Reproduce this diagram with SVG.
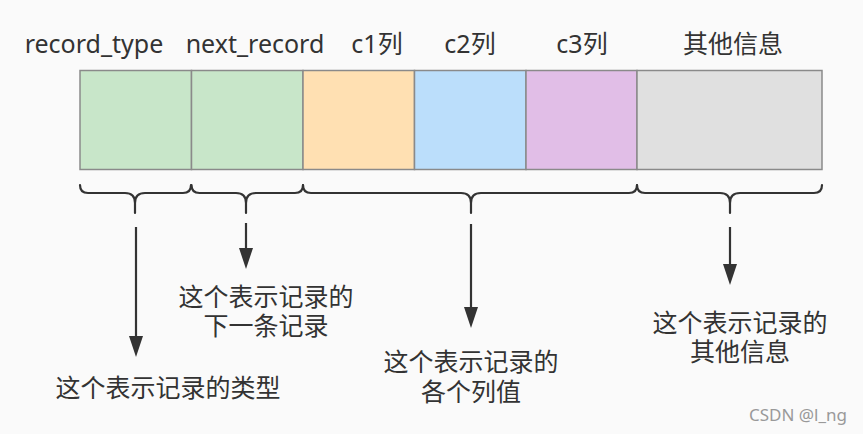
<svg xmlns="http://www.w3.org/2000/svg" width="863" height="434" viewBox="0 0 863 434">
<style>
text{font-family:"Noto Sans","Noto Sans CJK SC",sans-serif;font-size:25px;fill:#333;text-anchor:middle}
.box{stroke:#8a8a8a;stroke-width:1.5}
.brace{fill:none;stroke:#333;stroke-width:2.2;stroke-linecap:round}
.line{stroke:#333;stroke-width:2.2}
.head{fill:#333}
</style>
<rect width="863" height="434" fill="#fafafa"/>
<g id="record_type"><rect class="box" x="80" y="70.5" width="111.5" height="99" fill="#c8e6c9"/><text x="94" y="53">record_type</text></g>
<g id="next_record"><rect class="box" x="191.5" y="70.5" width="111.5" height="99" fill="#c8e6c9"/><text x="255" y="53">next_record</text></g>
<g id="c1"><rect class="box" x="303" y="70.5" width="111.5" height="99" fill="#ffe0b2"/><text x="377" y="53">c1列</text></g>
<g id="c2"><rect class="box" x="414.5" y="70.5" width="111.5" height="99" fill="#bbdefb"/><text x="470" y="53">c2列</text></g>
<g id="c3"><rect class="box" x="526" y="70.5" width="111" height="99" fill="#e1bee7"/><text x="582" y="53">c3列</text></g>
<g id="other"><rect class="box" x="637" y="70.5" width="185" height="99" fill="#e0e0e0"/><text x="733" y="53">其他信息</text></g>
<g id="braces">
<path class="brace" d="M80,185 Q80,193 88,193 L125,193 Q135,193 135,203 L135,213 M135,203 Q135,193 145,193 L183,193 Q191,193 191,185"/>
<path class="brace" d="M191.5,185 Q191.5,193 199.5,193 L236,193 Q246,193 246,203 L246,213 M246,203 Q246,193 256,193 L295,193 Q303,193 303,185"/>
<path class="brace" d="M303,185 Q303,193 311,193 L461,193 Q471,193 471,203 L471,213 M471,203 Q471,193 481,193 L629,193 Q637,193 637,185"/>
<path class="brace" d="M637,185 Q637,193 645,193 L720,193 Q730,193 730,203 L730,213 M730,203 Q730,193 740,193 L814,193 Q822,193 822,185"/>
</g>
<g id="connectors">
<path class="line" d="M136,227 L136,340"/>
<path class="head" d="M129,336 L143,336 L136,357 Z"/>
<path class="line" d="M246,223 L246,252"/>
<path class="head" d="M239,248 L253,248 L246,269 Z"/>
<path class="line" d="M471,224 L471,311"/>
<path class="head" d="M464,307 L478,307 L471,328 Z"/>
<path class="line" d="M730,227 L730,268"/>
<path class="head" d="M723,264 L737,264 L730,285 Z"/>
</g>
<g id="label1"><text x="168" y="397">这个表示记录的类型</text></g>
<g id="label2"><text x="266" y="306">这个表示记录的<tspan x="266" y="335">下一条记录</tspan></text></g>
<g id="label3"><text x="471" y="371">这个表示记录的<tspan x="471" y="401">各个列值</tspan></text></g>
<g id="label4"><text x="740" y="332">这个表示记录的<tspan x="740" y="361">其他信息</tspan></text></g>
<text x="847" y="421" style="font-size:17px;fill:#999;text-anchor:end">CSDN @l_ng</text>
</svg>
